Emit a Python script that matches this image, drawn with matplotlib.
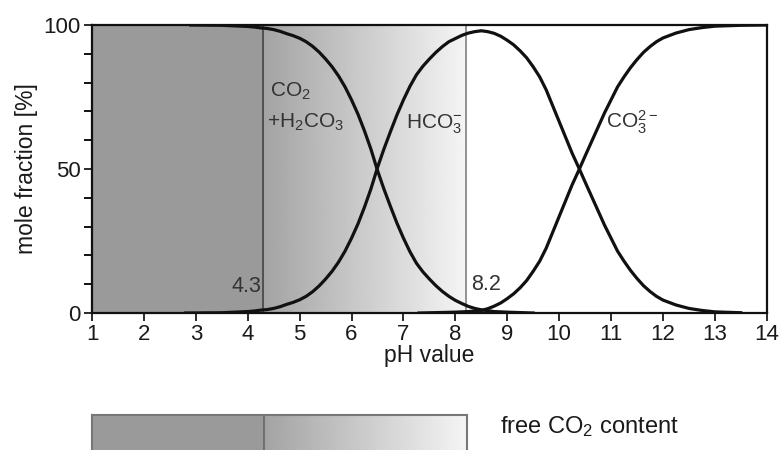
import numpy as np
import matplotlib
matplotlib.use("Agg")
import matplotlib.pyplot as plt

plt.rcParams['font.family'] = ['Liberation Sans', 'DejaVu Sans']
plt.rcParams['mathtext.fontset'] = 'custom'
plt.rcParams['mathtext.rm'] = 'Liberation Sans'
plt.rcParams['mathtext.it'] = 'Liberation Sans'

# values (mole fraction in %)
ph_co2 = [2.9, 3.5, 4.0, 4.125, 4.25, 4.375, 4.5, 4.625, 4.75, 4.875, 5.0, 5.125, 5.25,
          5.375, 5.5, 5.625, 5.75, 5.875, 6.0, 6.125, 6.25, 6.375, 6.5, 6.625, 6.75,
          6.875, 7.0, 7.125, 7.25, 7.375, 7.5, 7.625, 7.75, 7.875, 8.0, 8.125, 8.25,
          8.375, 8.5, 8.625, 8.75, 9.0, 9.5]
co2 = [100, 99.9, 99.5, 99.3, 99.0, 98.8, 98.4, 97.8, 97.0, 96.3, 95.4, 94.2, 92.6,
       90.6, 88.2, 85.5, 82.3, 78.5, 74.0, 69.0, 63.2, 56.8, 49.5, 43.0, 37.0,
       31.2, 26.0, 21.3, 17.3, 14.3, 11.8, 9.5, 7.5, 5.8, 4.4, 3.3, 2.3,
       1.6, 1.1, 0.8, 0.5, 0.3, 0]

ph_hco3 = [2.8, 3.5, 4.0, 4.125, 4.25, 4.375, 4.5, 4.625, 4.75, 4.875, 5.0, 5.125, 5.25,
           5.375, 5.5, 5.625, 5.75, 5.875, 6.0, 6.125, 6.25, 6.375, 6.5, 6.625, 6.75,
           6.875, 7.0, 7.125, 7.25, 7.375, 7.5, 7.625, 7.75, 7.875, 8.0, 8.125, 8.25,
           8.375, 8.5, 8.625, 8.75, 8.875, 9.0, 9.125, 9.25, 9.375, 9.5, 9.625, 9.75,
           9.875, 10.0, 10.125, 10.25, 10.39, 10.5, 10.625, 10.75, 10.875, 11.0,
           11.125, 11.25, 11.375, 11.5, 11.625, 11.75, 11.875, 12.0, 12.25, 12.5,
           12.75, 13.0, 13.5]
hco3 = [0, 0.1, 0.5, 0.7, 1.0, 1.2, 1.6, 2.2, 3.0, 3.7, 4.6, 5.8, 7.4,
        9.4, 11.8, 14.5, 17.7, 21.5, 26.0, 31.0, 36.8, 43.2, 50.5, 57.0, 63.0,
        68.8, 74.0, 78.7, 82.7, 85.7, 88.2, 90.5, 92.5, 94.2, 95.3, 96.4, 97.2,
        97.7, 98.0, 97.7, 97.1, 96.1, 94.7, 93.1, 91.0, 88.6, 85.5, 82.0, 77.5,
        72.0, 66.5, 61.0, 55.5, 50.0, 45.5, 40.5, 35.5, 30.5, 26.0,
        21.5, 18.0, 14.8, 12.0, 9.5, 7.5, 5.8, 4.5, 2.8, 1.6,
        0.9, 0.4, 0.1]

ph_co3 = [7.3, 8.0, 8.125, 8.25, 8.375, 8.5, 8.625, 8.75, 8.875, 9.0, 9.125, 9.25,
          9.375, 9.5, 9.625, 9.75, 9.875, 10.0, 10.125, 10.25, 10.39, 10.5, 10.625,
          10.75, 10.875, 11.0, 11.125, 11.25, 11.375, 11.5, 11.625, 11.75, 11.875,
          12.0, 12.25, 12.5, 12.75, 13.0, 13.5, 14.0]
co3 = [0, 0.3, 0.4, 0.5, 0.7, 0.9, 1.5, 2.4, 3.5, 5.0, 6.7, 8.8,
       11.3, 14.5, 18.0, 22.5, 28.0, 33.5, 39.0, 44.5, 50.0, 54.5, 59.5,
       64.5, 69.5, 74.0, 78.5, 82.0, 85.2, 88.0, 90.5, 92.5, 94.2,
       95.5, 97.2, 98.4, 99.1, 99.6, 99.9, 100]

ph_marks = [4.3, 8.2]

fig = plt.figure(figsize=(7.8, 4.5), dpi=100)
ax = fig.add_axes([0.118, 0.3044, 0.865, 0.64])

# background shading
ax.axvspan(1, ph_marks[0], color='#9a9a9a', lw=0, zorder=0)
grad = np.linspace(0.64, 0.96, 256).reshape(1, -1)
ax.imshow(grad, cmap='gray', vmin=0, vmax=1, aspect='auto',
          extent=[ph_marks[0], ph_marks[1], 0, 100], zorder=0.5)
ax.axvline(ph_marks[0], color='#3a3a3a', lw=1.1, zorder=1)
ax.axvline(ph_marks[1], color='#8a8a8a', lw=1.3, zorder=1)

for xs, ys in [(ph_co2, co2), (ph_hco3, hco3), (ph_co3, co3)]:
    ax.plot(xs, ys, color='#111111', lw=2.3, solid_joinstyle='round', zorder=3)

ax.set_xlim(1, 14)
ax.set_ylim(0, 100)
ax.set_xticks(range(1, 15))
ax.set_yticks([0, 50, 100])
ax.set_yticks(range(0, 101, 10), minor=True)
ax.tick_params(axis='both', direction='out', length=6, width=1.3, labelsize=16,
               colors='#1a1a1a', pad=2)
ax.tick_params(axis='y', which='minor', direction='out', length=6, width=1.3)
for s in ax.spines.values():
    s.set_linewidth(1.6)
    s.set_color('#111111')

ax.set_xlabel('pH value', fontsize=16.5, color='#1a1a1a', labelpad=-1)
ax.set_ylabel('mole fraction [%]', fontsize=16.5, color='#1a1a1a', labelpad=4)

tc = '#333333'
ax.text(4.42, 75, 'CO$_2$', fontsize=15, color=tc)
ax.text(4.38, 64.2, '+H$_2$CO$_3$', fontsize=15, color=tc)
ax.text(7.05, 64.2, 'HCO$_3^{-}$', fontsize=15, color=tc)
ax.text(10.9, 64.2, 'CO$_3^{2-}$', fontsize=15, color=tc)
ax.text(4.26, 7.3, '4.3', fontsize=15.5, color=tc, ha='right')
ax.text(8.3, 8, '8.2', fontsize=15.5, color=tc, ha='left')

# bar below the chart
bx = fig.add_axes([0.118, -0.05, 0.481, 0.128])
bx.set_xlim(1, 8.2)
bx.set_ylim(0, 1)
bx.axvspan(1, ph_marks[0], color='#9a9a9a', lw=0, zorder=0)
bx.imshow(grad, cmap='gray', vmin=0, vmax=1, aspect='auto',
          extent=[ph_marks[0], ph_marks[1], 0, 1], zorder=0.5)
bx.axvline(ph_marks[0], color='#666666', lw=1.2)
bx.set_xticks([])
bx.set_yticks([])
for s in bx.spines.values():
    s.set_color('#777777')
    s.set_linewidth(1.5)

fig.text(0.641, 0.038, 'free CO$_2$ content', fontsize=17, color='#1a1a1a')

fig.savefig('out.png', dpi=100)
